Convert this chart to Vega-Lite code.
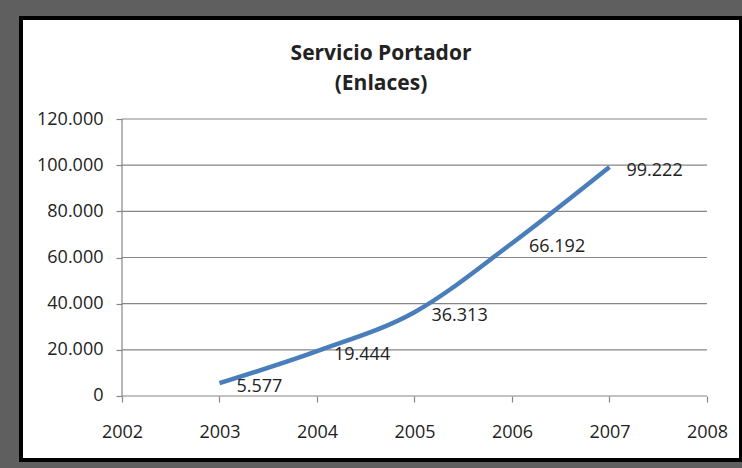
{
  "$schema": "https://vega.github.io/schema/vega-lite/v6.json",
  "autosize": {"type": "none"},
  "width": 720,
  "height": 442,
  "padding": {"left": 21, "top": 18, "right": 1, "bottom": 8},
  "background": "#5f5f5f",
  "title": {
    "text": ["Servicio Portador", "(Enlaces)"],
    "font": "Open Sans",
    "fontSize": 21,
    "fontWeight": "bold",
    "color": "#222222",
    "anchor": "middle",
    "frame": "group",
    "offset": -76,
    "lineHeight": 30
  },
  "datasets": {
    "enlaces": [
      {"year": 2003, "value": 5577},
      {"year": 2004, "value": 19444},
      {"year": 2005, "value": 36313},
      {"year": 2006, "value": 66192},
      {"year": 2007, "value": 99222}
    ],
    "grid": [
      {"g": 0}, {"g": 20000}, {"g": 40000}, {"g": 60000},
      {"g": 80000}, {"g": 100000}, {"g": 120000}
    ]
  },
  "layer": [
    {
      "data": {"name": "grid"},
      "mark": {"type": "rule", "color": "#868686", "strokeWidth": 1.2},
      "encoding": {
        "y": {"field": "g", "type": "quantitative"},
        "x": {"datum": 2002, "type": "quantitative"},
        "x2": {"datum": 2008}
      }
    },
    {
      "data": {"values": [{"axis": "y"}]},
      "mark": {"type": "rule", "color": "#868686", "strokeWidth": 1.2},
      "encoding": {
        "x": {"datum": 2002, "type": "quantitative"},
        "y": {"datum": 0, "type": "quantitative"},
        "y2": {"datum": 120000}
      }
    },
    {
      "data": {"name": "enlaces"},
      "mark": {"type": "line", "color": "#4a7ebb", "strokeWidth": 4.5, "interpolate": "monotone", "strokeCap": "butt"},
      "encoding": {
        "x": {
          "field": "year", "type": "quantitative",
          "scale": {"domain": [2000.964, 2008.349], "nice": false, "zero": false},
          "axis": {
            "orient": "bottom", "offset": -64, "domain": false, "grid": false,
            "values": [2002, 2003, 2004, 2005, 2006, 2007, 2008],
            "format": "d", "title": null,
            "tickColor": "#868686", "tickSize": 6, "tickWidth": 1.2,
            "labelPadding": 21, "labelFont": "Open Sans", "labelFontSize": 18,
            "labelColor": "#222222", "labelFlush": false, "labelOverlap": false
          }
        },
        "y": {
          "field": "value", "type": "quantitative",
          "scale": {"domain": [-27726, 163755], "nice": false, "zero": false},
          "axis": {
            "orient": "left", "offset": -101, "domain": false, "grid": false,
            "values": [0, 20000, 40000, 60000, 80000, 100000, 120000],
            "format": ",.0f", "title": null,
            "tickColor": "#868686", "tickSize": 6, "tickWidth": 1.2,
            "labelPadding": 13, "labelFont": "Open Sans", "labelFontSize": 18,
            "labelColor": "#222222", "labelOverlap": false
          }
        }
      }
    },
    {
      "data": {"name": "enlaces"},
      "mark": {"type": "text", "align": "left", "baseline": "middle", "dx": 17, "dy": 4, "font": "Open Sans", "fontSize": 18, "color": "#222222"},
      "encoding": {
        "x": {"field": "year", "type": "quantitative"},
        "y": {"field": "value", "type": "quantitative"},
        "text": {"field": "value", "type": "quantitative", "format": ",.0f"}
      }
    }
  ],
  "config": {
    "locale": {"number": {"decimal": ",", "thousands": ".", "grouping": [3], "currency": ["", ""]}},
    "view": {"stroke": "#000000", "strokeWidth": 4, "fill": "#ffffff"}
  }
}
